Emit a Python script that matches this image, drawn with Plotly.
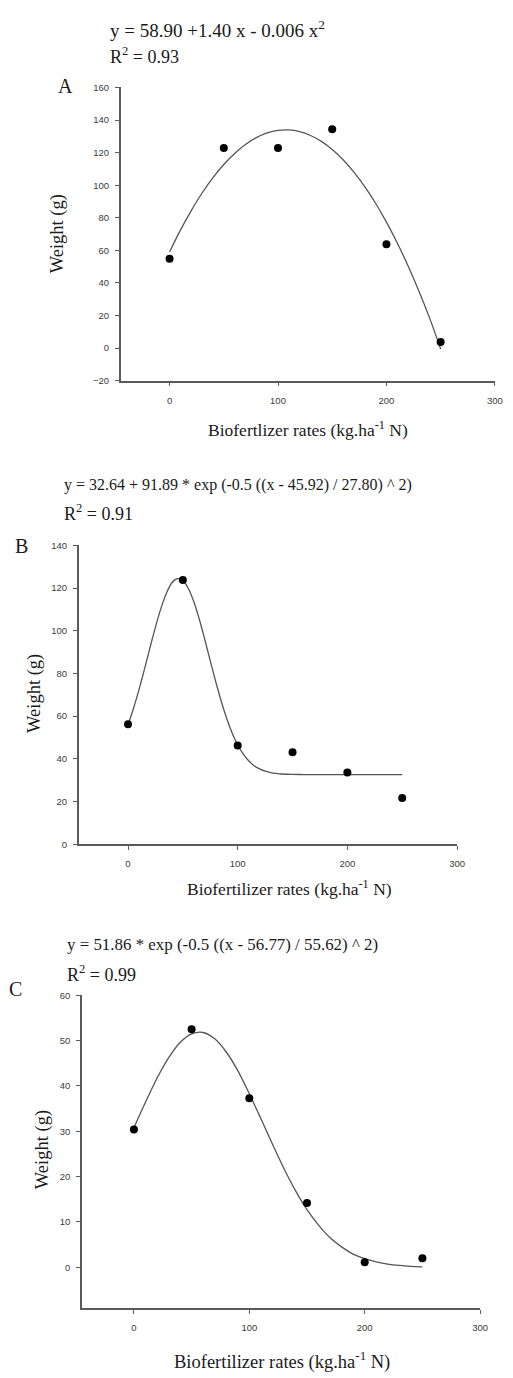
import plotly.graph_objects as go

W, H = 513, 1378

# ---- data ----
rates = [0, 50, 100, 150, 200, 250]
weight_A = [54.9, 122.8, 122.8, 134.3, 63.8, 3.8]
weight_B = [56.2, 123.8, 46.3, 43.1, 33.6, 21.7]
weight_C = [30.4, 52.5, 37.3, 14.2, 1.1, 2.0]

fit_x_A = [0, 10, 20, 30, 40, 50, 60, 70, 80, 90, 100, 110, 120, 130, 140, 150, 160, 170, 180, 190,
           200, 210, 220, 230, 240, 250]
fit_y_A = [59.0, 72.4, 84.4, 95.2, 104.6, 112.7, 119.5, 125.0, 129.2, 132.1, 133.7, 133.9, 132.9,
           130.5, 126.9, 121.9, 115.6, 108.0, 99.1, 88.9, 77.3, 64.5, 50.4, 34.9, 18.1, -0.5]

fit_x_B = [0, 5, 10, 15, 20, 25, 30, 35, 40, 45, 50, 55, 60, 65, 70, 75, 80, 85, 90, 95, 100, 105,
           110, 115, 120, 125, 130, 135, 140, 150, 160, 170, 180, 190, 200, 210, 220, 230, 240, 250]
fit_y_B = [56.0, 63.6, 72.4, 82.0, 92.0, 101.7, 110.5, 117.6, 122.5, 124.4, 123.6, 119.8, 113.6,
           105.4, 95.9, 85.9, 76.1, 67.0, 58.9, 52.0, 46.5, 42.3, 39.1, 36.8, 35.3, 34.2, 33.6, 33.2,
           32.9, 32.7, 32.65, 32.6, 32.6, 32.6, 32.6, 32.6, 32.6, 32.6, 32.6, 32.6]

fit_x_C = [0, 10, 20, 30, 40, 50, 60, 70, 80, 90, 100, 110, 120, 130, 140, 150, 160, 170, 180, 190,
           200, 210, 220, 230, 240, 250]
fit_y_C = [30.8, 36.4, 41.7, 46.2, 49.6, 51.5, 51.8, 50.4, 47.5, 43.4, 38.3, 32.8, 27.2, 21.8, 16.9,
           12.7, 9.3, 6.5, 4.5, 2.9, 1.9, 1.2, 0.7, 0.4, 0.2, 0.1]

eq_A = "y = 58.90 +1.40 x - 0.006 x<sup>2</sup>"
eq_B = "y = 32.64 + 91.89 * exp (-0.5 ((x - 45.92) / 27.80) ^ 2)"
eq_C = "y = 51.86 * exp (-0.5 ((x - 56.77) / 55.62) ^ 2)"
r2_A = "R<sup>2</sup> = 0.93"
r2_B = "R<sup>2</sup> = 0.91"
r2_C = "R<sup>2</sup> = 0.99"
xtitle_A = "Biofertlizer rates (kg.ha<sup>-1</sup> N)"
xtitle_BC = "Biofertilizer rates (kg.ha<sup>-1</sup> N)"
ytitle = "Weight (g)"
x_ticks = [0, 100, 200, 300]


def px(x):
    return x / W


def py(y):
    return 1 - y / H


fig = go.Figure()

panels = [
    ("", weight_A, fit_x_A, fit_y_A, (122.7, 502.7), (82.1, 377.7), [-20, 160], 20),
    ("2", weight_B, fit_x_B, fit_y_B, (79.9, 464.3), (543.7, 845.0), [0, 140], 20),
    ("3", weight_C, fit_x_C, fit_y_C, (83.3, 487.7), (997.3, 1312.5), [-9, 60], 10),
]

axis_col = "#5a5a5a"
tick_font = dict(family="Liberation Sans, Arial", size=9.5, color="#3a3a3a")

for suf, ys, fx, fy, xd, yd, yr, dt in panels:
    xa = "x" + suf
    ya = "y" + suf
    fig.add_trace(go.Scatter(x=fx, y=fy, mode="lines",
                             line=dict(color="#555555", width=1.3, shape="spline", smoothing=0.8),
                             xaxis=xa, yaxis=ya, showlegend=False, hoverinfo="skip"))
    fig.add_trace(go.Scatter(x=rates, y=ys, mode="markers", marker=dict(color="black", size=8),
                             xaxis=xa, yaxis=ya, showlegend=False))
    fig.layout["xaxis" + suf] = dict(domain=[px(xd[0]), px(xd[1])], range=[-45, 300], tickvals=x_ticks,
                                     showline=True, linecolor=axis_col, linewidth=1.5, ticks="outside",
                                     ticklen=4, tickcolor=axis_col, tickwidth=1, showgrid=False,
                                     zeroline=False, tickfont=tick_font, anchor=ya, ticklabelstandoff=6)
    fig.layout["yaxis" + suf] = dict(domain=[py(yd[1]), py(yd[0])], range=yr, tick0=0, dtick=dt,
                                     showline=True, linecolor=axis_col, linewidth=1.5, ticks="outside",
                                     ticklen=4, tickcolor=axis_col, tickwidth=1, showgrid=False,
                                     zeroline=False, tickfont=tick_font, anchor=xa, ticklabelstandoff=4)

serif = "Liberation Serif, Times New Roman, serif"
txt_col = "#1a1a1a"


def ann(text, x, y, size=18, xanchor="left", angle=0):
    fig.add_annotation(text=text, x=px(x), y=py(y), xref="paper", yref="paper", showarrow=False,
                       xanchor=xanchor, yanchor="middle", textangle=angle,
                       font=dict(family=serif, size=size, color=txt_col))


# equations
ann(eq_A, 110, 23, size=19)
ann(r2_A, 110, 50)
ann(eq_B, 63, 483, size=16)
ann(r2_B, 63, 511)
ann(eq_C, 66, 946, size=16.9)
ann(r2_C, 66, 975)

# panel letters
ann("A", 67, 81, size=20, xanchor="center")
ann("B", 22, 544, size=20, xanchor="center")
ann("C", 16, 991, size=20, xanchor="center")

# axis titles
ann(ytitle, 58, 230, size=18.5, xanchor="center", angle=-90)
ann(ytitle, 35, 693, size=18.5, xanchor="center", angle=-90)
ann(ytitle, 43, 1153, size=18.5, xanchor="center", angle=-90)
ann(xtitle_A, 313, 426, size=17.5, xanchor="center")
ann(xtitle_BC, 294, 889, size=17.5, xanchor="center")
ann(xtitle_BC, 286, 1365, size=18.5, xanchor="center")

fig.update_layout(width=W, height=H, margin=dict(l=0, r=0, t=0, b=0),
                  plot_bgcolor="white", paper_bgcolor="white")

fig.write_html("out.html", config={"displayModeBar": False},
               post_script="document.body.style.margin='0';document.body.style.overflow='hidden';")
